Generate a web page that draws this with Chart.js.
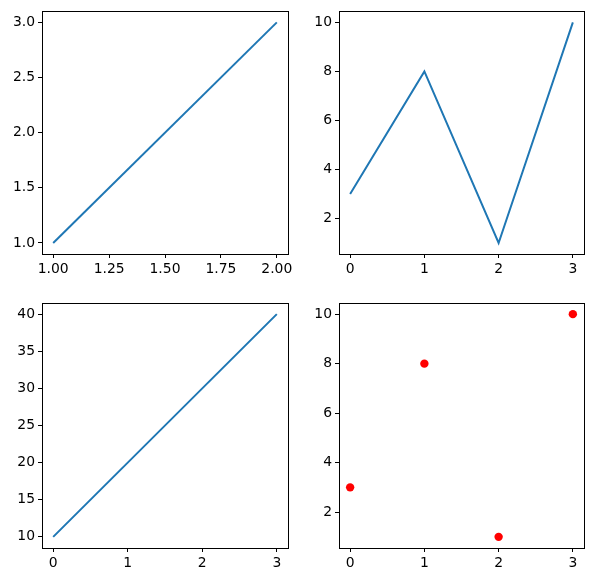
<!DOCTYPE html>
<html><head><meta charset="utf-8">
<script src="https://cdn.jsdelivr.net/npm/chart.js@4/dist/chart.umd.min.js"></script>
<style>
html,body{margin:0;padding:0;background:#fff;}
#wrap{position:relative;width:594px;height:582px;}
canvas{position:absolute;}
</style></head><body>
<div id="wrap">
<canvas id="c1" style="left:0;top:0;width:297px;height:291px" width="297" height="291"></canvas>
<canvas id="c2" style="left:297px;top:0;width:297px;height:291px" width="297" height="291"></canvas>
<canvas id="c3" style="left:0;top:291px;width:297px;height:291px" width="297" height="291"></canvas>
<canvas id="c4" style="left:297px;top:291px;width:297px;height:291px" width="297" height="291"></canvas>
</div>
<script>
// Data
const x1 = [1, 2];
const y1 = [1, 3];
const x2 = [0, 1, 2, 3];
const y2 = [3, 8, 1, 10];
const x3 = [0, 1, 2, 3];
const y3 = [10, 20, 30, 40];
const x4 = [0, 1, 2, 3];
const y4 = [3, 8, 1, 10];
// Tick labels
const xTicks1 = [1.00, 1.25, 1.50, 1.75, 2.00];
const yTicks1 = [1.0, 1.5, 2.0, 2.5, 3.0];
const xTicks2 = [0, 1, 2, 3];
const yTicks2 = [2, 4, 6, 8, 10];
const xTicks3 = [0, 1, 2, 3];
const yTicks3 = [10, 15, 20, 25, 30, 35, 40];
const xTicks4 = [0, 1, 2, 3];
const yTicks4 = [2, 4, 6, 8, 10];

Chart.defaults.font.family = "'DejaVu Sans', sans-serif";
Chart.defaults.font.size = 13.9;
Chart.defaults.color = '#000';
Chart.defaults.animation = false;

const frame = {
  id: 'frame',
  afterDraw(chart) {
    const a = chart.chartArea, ctx = chart.ctx;
    ctx.save();
    ctx.strokeStyle = '#000';
    ctx.lineWidth = 1;
    ctx.strokeRect(Math.round(a.left) + 0.5, Math.round(a.top) + 0.5, Math.round(a.right - a.left), Math.round(a.bottom - a.top));
    ctx.restore();
  }
};

function pad(xs, m) { const lo = Math.min(...xs), hi = Math.max(...xs), d = (hi - lo) * m; return [lo - d, hi + d]; }

function make(id, xs, ys, xt, yt, dec, opts) {
  const [xmin, xmax] = pad(xs, 0.05);
  const [ymin, ymax] = pad(ys, 0.05);
  const pts = xs.map((x, i) => ({x: x, y: ys[i]}));
  const ds = opts.scatter ? {
    data: pts, showLine: false, pointRadius: 4.2, pointBackgroundColor: '#ff0000', pointBorderWidth: 0, borderColor: '#ff0000'
  } : {
    data: pts, showLine: true, borderColor: '#1f77b4', borderWidth: 2, pointRadius: 0, tension: 0
  };
  const axisCommon = {
    type: 'linear',
    grid: { drawOnChartArea: false, drawTicks: true, tickLength: 4, tickColor: '#000', tickWidth: 1 },
    border: { display: true, color: '#000', width: 1 },
  };
  return new Chart(document.getElementById(id), {
    type: 'scatter',
    data: { datasets: [ds] },
    options: {
      responsive: false,
      events: [],
      layout: { padding: { top: opts.top, right: opts.right, left: 0, bottom: 0 } },
      plugins: { legend: { display: false }, tooltip: { enabled: false } },
      scales: {
        x: Object.assign({}, axisCommon, {
          min: xmin, max: xmax,
          afterBuildTicks: s => { s.ticks = xt.map(v => ({value: v})); },
          afterFit: s => { s.height = opts.xh; },
          ticks: { padding: 3, maxRotation: 0, autoSkip: false, callback: v => v.toFixed(dec[0]) }
        }),
        y: Object.assign({}, axisCommon, {
          min: ymin, max: ymax,
          afterBuildTicks: s => { s.ticks = yt.map(v => ({value: v})); },
          afterFit: s => { s.width = 42; },
          ticks: { padding: 3, autoSkip: false, callback: v => v.toFixed(dec[1]) }
        })
      }
    },
    plugins: [frame]
  });
}

make('c1', x1, y1, xTicks1, yTicks1, [2, 1], { top: 9, right: 9, xh: 37 });
make('c2', x2, y2, xTicks2, yTicks2, [0, 0], { top: 9, right: 10, xh: 37 });
make('c3', x3, y3, xTicks3, yTicks3, [0, 0], { top: 12, right: 9, xh: 34 });
make('c4', x4, y4, xTicks4, yTicks4, [0, 0], { top: 12, right: 10, xh: 34, scatter: true });
</script>
</body></html>
